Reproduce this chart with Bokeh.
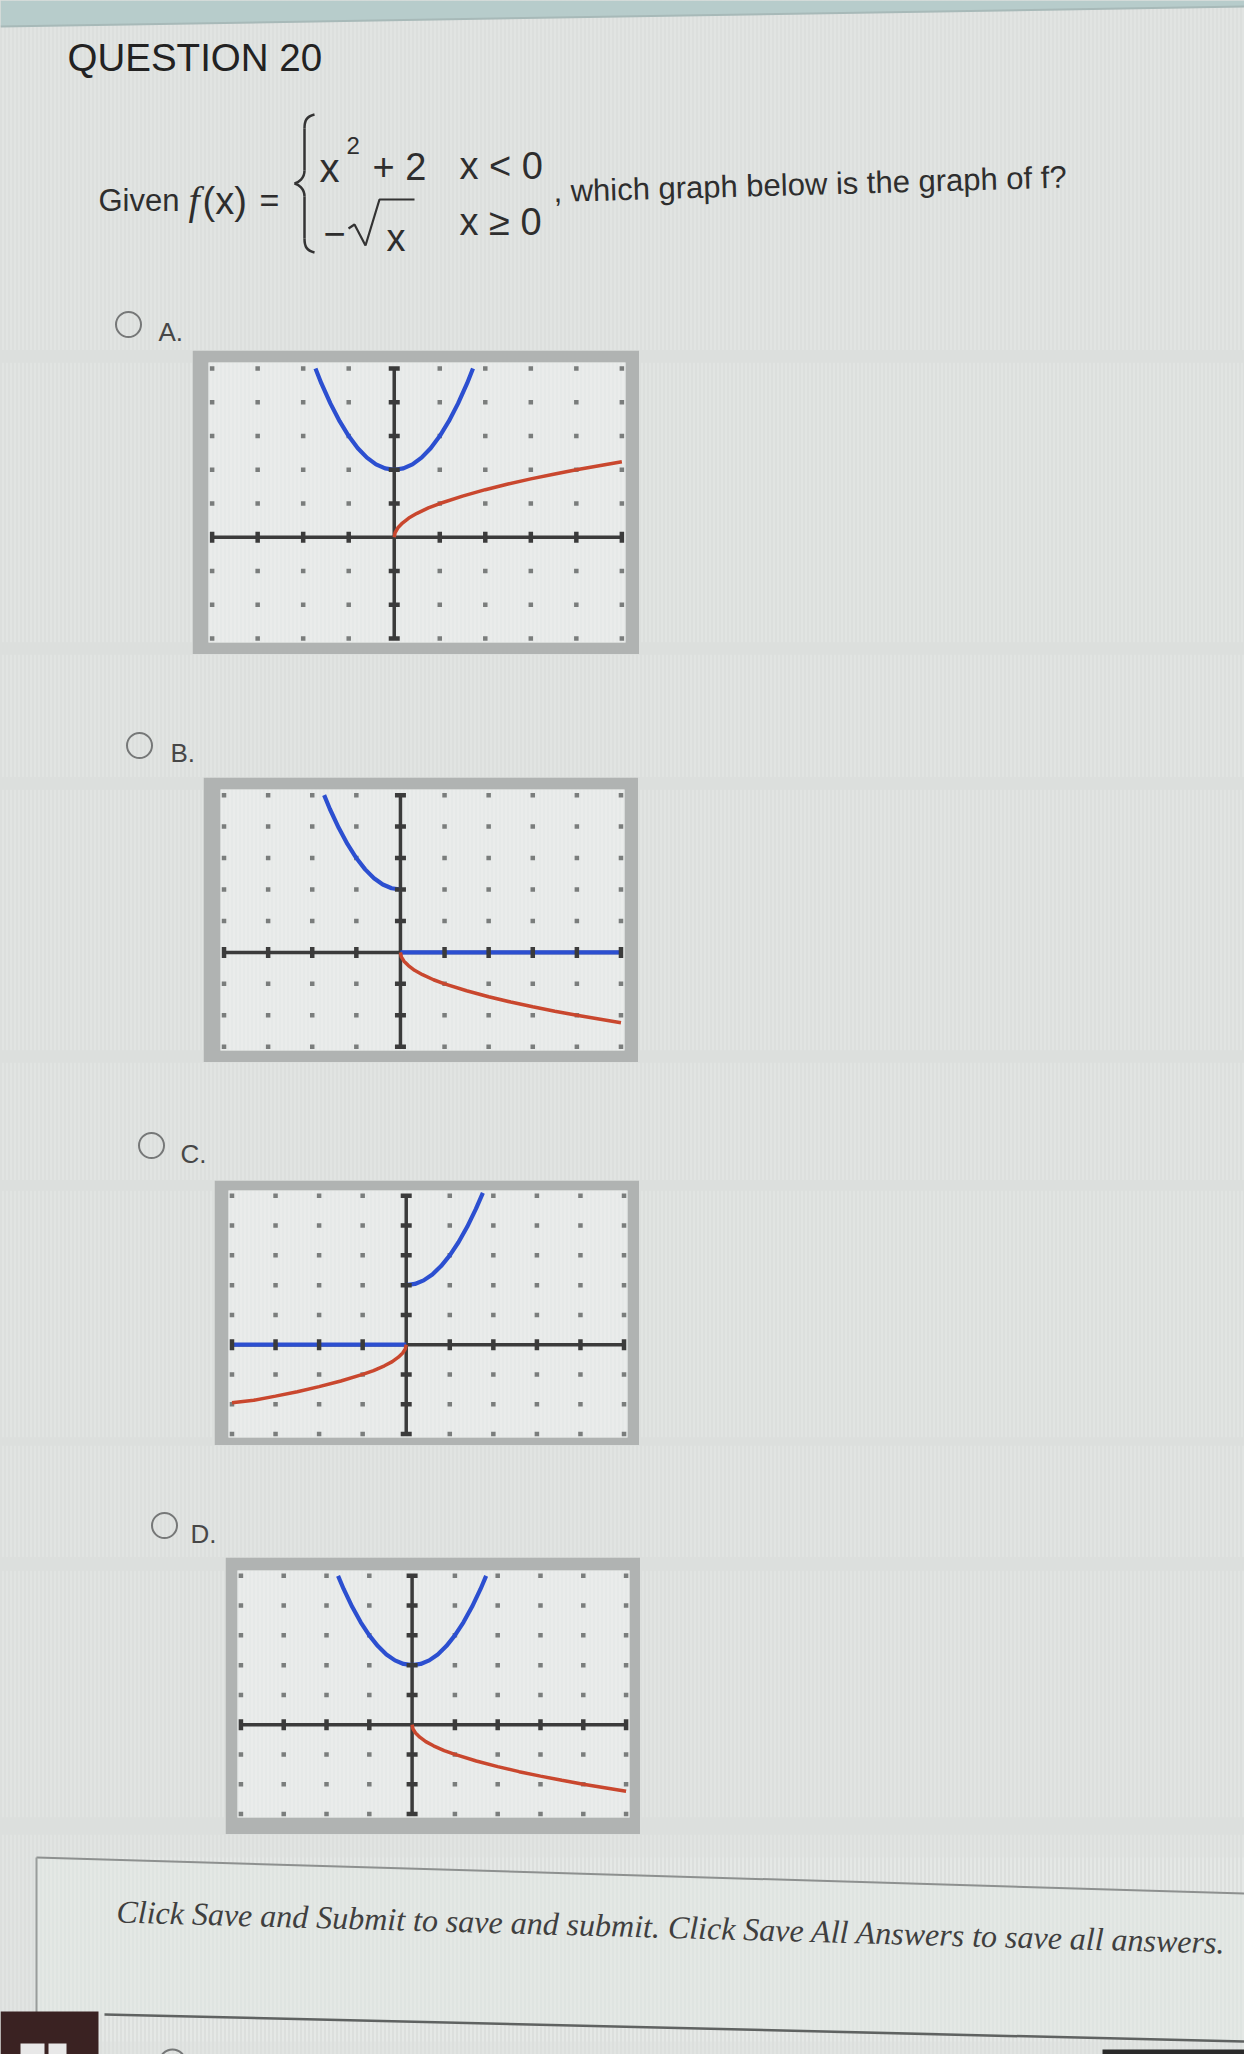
from bokeh.plotting import figure
from bokeh.models import Range1d
from bokeh.layouts import column, row
from bokeh.embed import file_html
from bokeh.resources import INLINE
from bokeh.core.properties import value

# ---------------- data ----------------
QUESTION = "QUESTION 20"
PROMPT = ", which graph below is the graph of f?"
OPTION_LABELS = ["A.", "B.", "C.", "D."]
FOOTER = "Click Save and Submit to save and submit. Click Save All Answers to save all answers."

GRID_X = [-4, -3, -2, -1, 0, 1, 2, 3, 4, 5]
GRID_Y = [-3, -2, -1, 0, 1, 2, 3, 4, 5]

# blue parabola pieces
PARAB_X = [-1.73, -1.6, -1.4, -1.2, -1.0, -0.8, -0.6, -0.4, -0.2, 0.0, 0.2, 0.4, 0.6, 0.8, 1.0, 1.2, 1.4, 1.6, 1.73]
PARAB_Y = [5.0, 4.56, 3.96, 3.44, 3.0, 2.64, 2.36, 2.16, 2.04, 2.0, 2.04, 2.16, 2.36, 2.64, 3.0, 3.44, 3.96, 4.56, 5.0]
LEFT_PARAB_X = [-1.73, -1.6, -1.4, -1.2, -1.0, -0.8, -0.6, -0.4, -0.2, 0.0]
LEFT_PARAB_Y = [5.0, 4.56, 3.96, 3.44, 3.0, 2.64, 2.36, 2.16, 2.04, 2.0]
RIGHT_PARAB_X = [0.0, 0.2, 0.4, 0.6, 0.8, 1.0, 1.2, 1.4, 1.6, 1.76]
RIGHT_PARAB_Y = [2.0, 2.04, 2.16, 2.36, 2.64, 3.0, 3.44, 3.96, 4.56, 5.1]
# blue flat pieces
FLAT_RIGHT_X = [0, 5]
FLAT_RIGHT_Y = [0, 0]
FLAT_LEFT_X = [-4, 0]
FLAT_LEFT_Y = [0, 0]
# red root pieces
ROOT_X = [0.0, 0.02, 0.08, 0.18, 0.32, 0.5, 0.75, 1.0, 1.5, 2.0, 2.5, 3.0, 3.5, 4.0, 4.5, 5.0]
ROOT_UP_Y = [0.0, 0.14, 0.28, 0.42, 0.57, 0.71, 0.87, 1.0, 1.22, 1.41, 1.58, 1.73, 1.87, 2.0, 2.12, 2.24]
ROOT_DOWN_Y = [0.0, -0.14, -0.28, -0.42, -0.57, -0.71, -0.87, -1.0, -1.22, -1.41, -1.58, -1.73, -1.87, -2.0, -2.12, -2.24]
ROOT_LEFT_X = [0.0, -0.02, -0.08, -0.18, -0.32, -0.5, -0.75, -1.0, -1.5, -2.0, -2.5, -3.0, -3.5, -4.0]
ROOT_LEFT_Y = [0.0, -0.14, -0.28, -0.42, -0.57, -0.71, -0.87, -1.0, -1.22, -1.41, -1.58, -1.73, -1.87, -1.95]

GRAPHS = {
    "A": {"blue": [(PARAB_X, PARAB_Y)], "red": [(ROOT_X, ROOT_UP_Y)]},
    "B": {"blue": [(LEFT_PARAB_X, LEFT_PARAB_Y), (FLAT_RIGHT_X, FLAT_RIGHT_Y)], "red": [(ROOT_X, ROOT_DOWN_Y)]},
    "C": {"blue": [(RIGHT_PARAB_X, RIGHT_PARAB_Y), (FLAT_LEFT_X, FLAT_LEFT_Y)], "red": [(ROOT_LEFT_X, ROOT_LEFT_Y)]},
    "D": {"blue": [(PARAB_X, PARAB_Y)], "red": [(ROOT_X, ROOT_DOWN_Y)]},
}

# ---------------- style ----------------
BG = "#dcdfdd"
TXT = "#2e2e2e"
FRAME = "#b0b3b2"
INNER = "#e6e9e8"
BLUE = "#2c4fd0"
RED = "#c9472e"
AXC = "#3b3b3b"
DOT = "#7a7d7c"
SANS = "Liberation Sans"
SERIF = "Liberation Serif"


def stripes(p, x0, x1, y0, y1):
    p.quad(left=[x0], right=[x1], top=[y0], bottom=[y1], fill_color=None, line_color=None,
           hatch_pattern="vertical_line", hatch_color="#ffffff", hatch_alpha=0.28,
           hatch_scale=4, hatch_weight=1)


def band(x0, x1, y0, y1):
    p = figure(width=int(x1 - x0), height=int(y1 - y0),
               x_range=Range1d(x0, x1), y_range=Range1d(y1, y0),
               output_backend="svg", toolbar_location=None,
               x_axis_location=None, y_axis_location=None, min_border=0)
    p.grid.grid_line_color = None
    p.outline_line_color = None
    p.background_fill_color = BG
    p.border_fill_color = BG
    stripes(p, x0, x1, y0, y1)
    return p


def txt(p, x, y, s, size, font=SANS, style="normal", color=TXT, angle=0.0):
    p.text(x=[x], y=[y], text=[s], text_font=value(font), text_font_size=f"{size}px",
           text_font_style=style, text_color=color, text_baseline="alphabetic",
           text_align="left", angle=angle)


def radio(p, x, y, label, lx, ly):
    p.scatter(x=[x], y=[y], marker="circle", size=25, fill_color=None,
              line_color="#767878", line_width=2)
    txt(p, lx, ly, label, 26, color="#474747")


def graph(key, w, h, bl, br, bt, bb):
    p = figure(width=w, height=h, x_range=Range1d(-4.08, 5.08), y_range=Range1d(-3.12, 5.18),
               output_backend="svg", toolbar_location=None,
               x_axis_location=None, y_axis_location=None,
               min_border_left=bl, min_border_right=br, min_border_top=bt, min_border_bottom=bb)
    p.grid.grid_line_color = None
    p.outline_line_color = None
    p.background_fill_color = INNER
    p.border_fill_color = FRAME
    stripes(p, -4.08, 5.08, 5.18, -3.12)
    dx = [gx for gx in GRID_X for gy in GRID_Y if gx != 0 and gy != 0]
    dy = [gy for gx in GRID_X for gy in GRID_Y if gx != 0 and gy != 0]
    p.scatter(x=dx, y=dy, marker="square", size=4.5, fill_color=DOT, line_color=None)
    p.segment(x0=[GRID_X[0], 0], y0=[0, GRID_Y[0]], x1=[GRID_X[-1], 0], y1=[0, GRID_Y[-1]],
              line_color=AXC, line_width=3.5)
    for xs, ys in GRAPHS[key]["blue"]:
        p.line(xs, ys, line_color=BLUE, line_width=4.2)
    for xs, ys in GRAPHS[key]["red"]:
        p.line(xs, ys, line_color=RED, line_width=3.5)
    tx = [gx for gx in GRID_X if gx != 0]
    ty = [gy for gy in GRID_Y if gy != 0]
    p.scatter(x=tx, y=[0] * len(tx), marker="dash", angle=1.5708, size=11, line_color=AXC, line_width=4.5)
    p.scatter(x=[0] * len(ty), y=ty, marker="dash", size=11, line_color=AXC, line_width=4.5)
    return p


# ---------------- header ----------------
hd = band(8, 1252, 8, 358)
hd.patch(x=[8, 1252, 1252, 8], y=[8, 8, 14, 34], fill_color="#b7cccb", line_color=None)
hd.line(x=[8, 1252], y=[34, 14], line_color="#a7b9b8", line_width=2)
txt(hd, 75, 65, QUESTION, 38.5, color="#222222")
txt(hd, 106, 208, "Given", 31)
txt(hd, 196, 208, "f", 40, font=SERIF, style="italic")
txt(hd, 210, 208, "(x)", 38)
txt(hd, 267, 207, "=", 34)
# brace
hd.bezier(x0=[322, 312, 302, 312], y0=[122, 178, 191, 246],
          x1=[312, 302, 312, 322], y1=[136, 191, 204, 260],
          cx0=[314, 312, 306, 312], cy0=[124, 186, 192, 254],
          cx1=[312, 306, 312, 314], cy1=[128, 190, 196, 258],
          line_color="#333333", line_width=2.5)
hd.segment(x0=[312, 312], y0=[136, 204], x1=[312, 312], y1=[178, 246],
           line_color="#333333", line_width=2.5)
txt(hd, 327, 175, "x", 40)
txt(hd, 354, 153, "2", 24)
txt(hd, 380, 174, "+ 2", 38)
txt(hd, 467, 173, "x < 0", 38)
txt(hd, 331, 241, "\u2212", 38)
hd.line(x=[356, 362, 373, 387, 422], y=[236, 232, 253, 207, 207], line_color="#333333", line_width=2.2)
txt(hd, 394, 245, "x", 38)
txt(hd, 467, 229, "x \u2265 0", 38)
txt(hd, 561, 199, PROMPT, 31, angle=0.028)
radio(hd, 136, 332, OPTION_LABELS[0], 166, 339)

# ---------------- graph rows ----------------
def grow(key, y0, y1, gx0, gx1, borders):
    left = band(8, gx0, y0, y1)
    right = band(gx1, 1252, y0, y1)
    g = graph(key, int(gx1 - gx0), int(y1 - y0), *borders)
    return row(left, g, right, styles={"background-color": BG})

rowA = grow("A", 358, 662, 200, 647, (16, 14, 12, 12))
bandAB = band(8, 1252, 662, 785)
radio(bandAB, 147, 753, OPTION_LABELS[1], 178, 760)
rowB = grow("B", 785, 1070, 211, 646, (17, 14, 12, 12))
bandBC = band(8, 1252, 1070, 1188)
radio(bandBC, 159, 1153, OPTION_LABELS[2], 188, 1161)
rowC = grow("C", 1188, 1453, 222, 647, (14, 12, 10, 8))
bandCD = band(8, 1252, 1453, 1565)
radio(bandCD, 172, 1533, OPTION_LABELS[3], 198, 1541)
rowD = grow("D", 1565, 1842, 233, 648, (12, 11, 13, 17))

# ---------------- footer ----------------
ft = band(8, 1252, 1842, 2062)
ft.patch(x=[44, 1252, 1252, 112, 44], y=[1865, 1901, 2049, 2022, 2022], fill_color="#dfe4e1", line_color=None)
stripes(ft, 44, 1252, 1865, 2049)
ft.line(x=[44, 1252], y=[1865, 1901], line_color="#8d908f", line_width=2)
ft.line(x=[44, 44], y=[1865, 2022], line_color="#9a9d9c", line_width=2)
ft.line(x=[112, 1252], y=[2022, 2049], line_color="#5f6261", line_width=2.5)
txt(ft, 124, 1919, FOOTER, 32, font=SERIF, style="italic", color="#3f3f3f", angle=-0.028)
ft.quad(left=[8], right=[106], top=[2019], bottom=[2062], fill_color="#3a2222", line_color=None)
ft.quad(left=[28, 56], right=[52, 74], top=[2051, 2051], bottom=[2062, 2062], fill_color="#e8e8e8", line_color=None)
ft.quad(left=[1110], right=[1252], top=[2057], bottom=[2062], fill_color="#2a2a2a", line_color=None)
ft.scatter(x=[180], y=[2070], marker="circle", size=26, fill_color=None, line_color="#767878", line_width=2)

page = column(hd, rowA, bandAB, rowB, bandBC, rowC, bandCD, rowD, ft, styles={"background-color": BG})
html = file_html(page, INLINE)
html = html.replace("<body>", '<body style="background-color: #dcdfdd;">', 1)
open("out.html", "w").write(html)
